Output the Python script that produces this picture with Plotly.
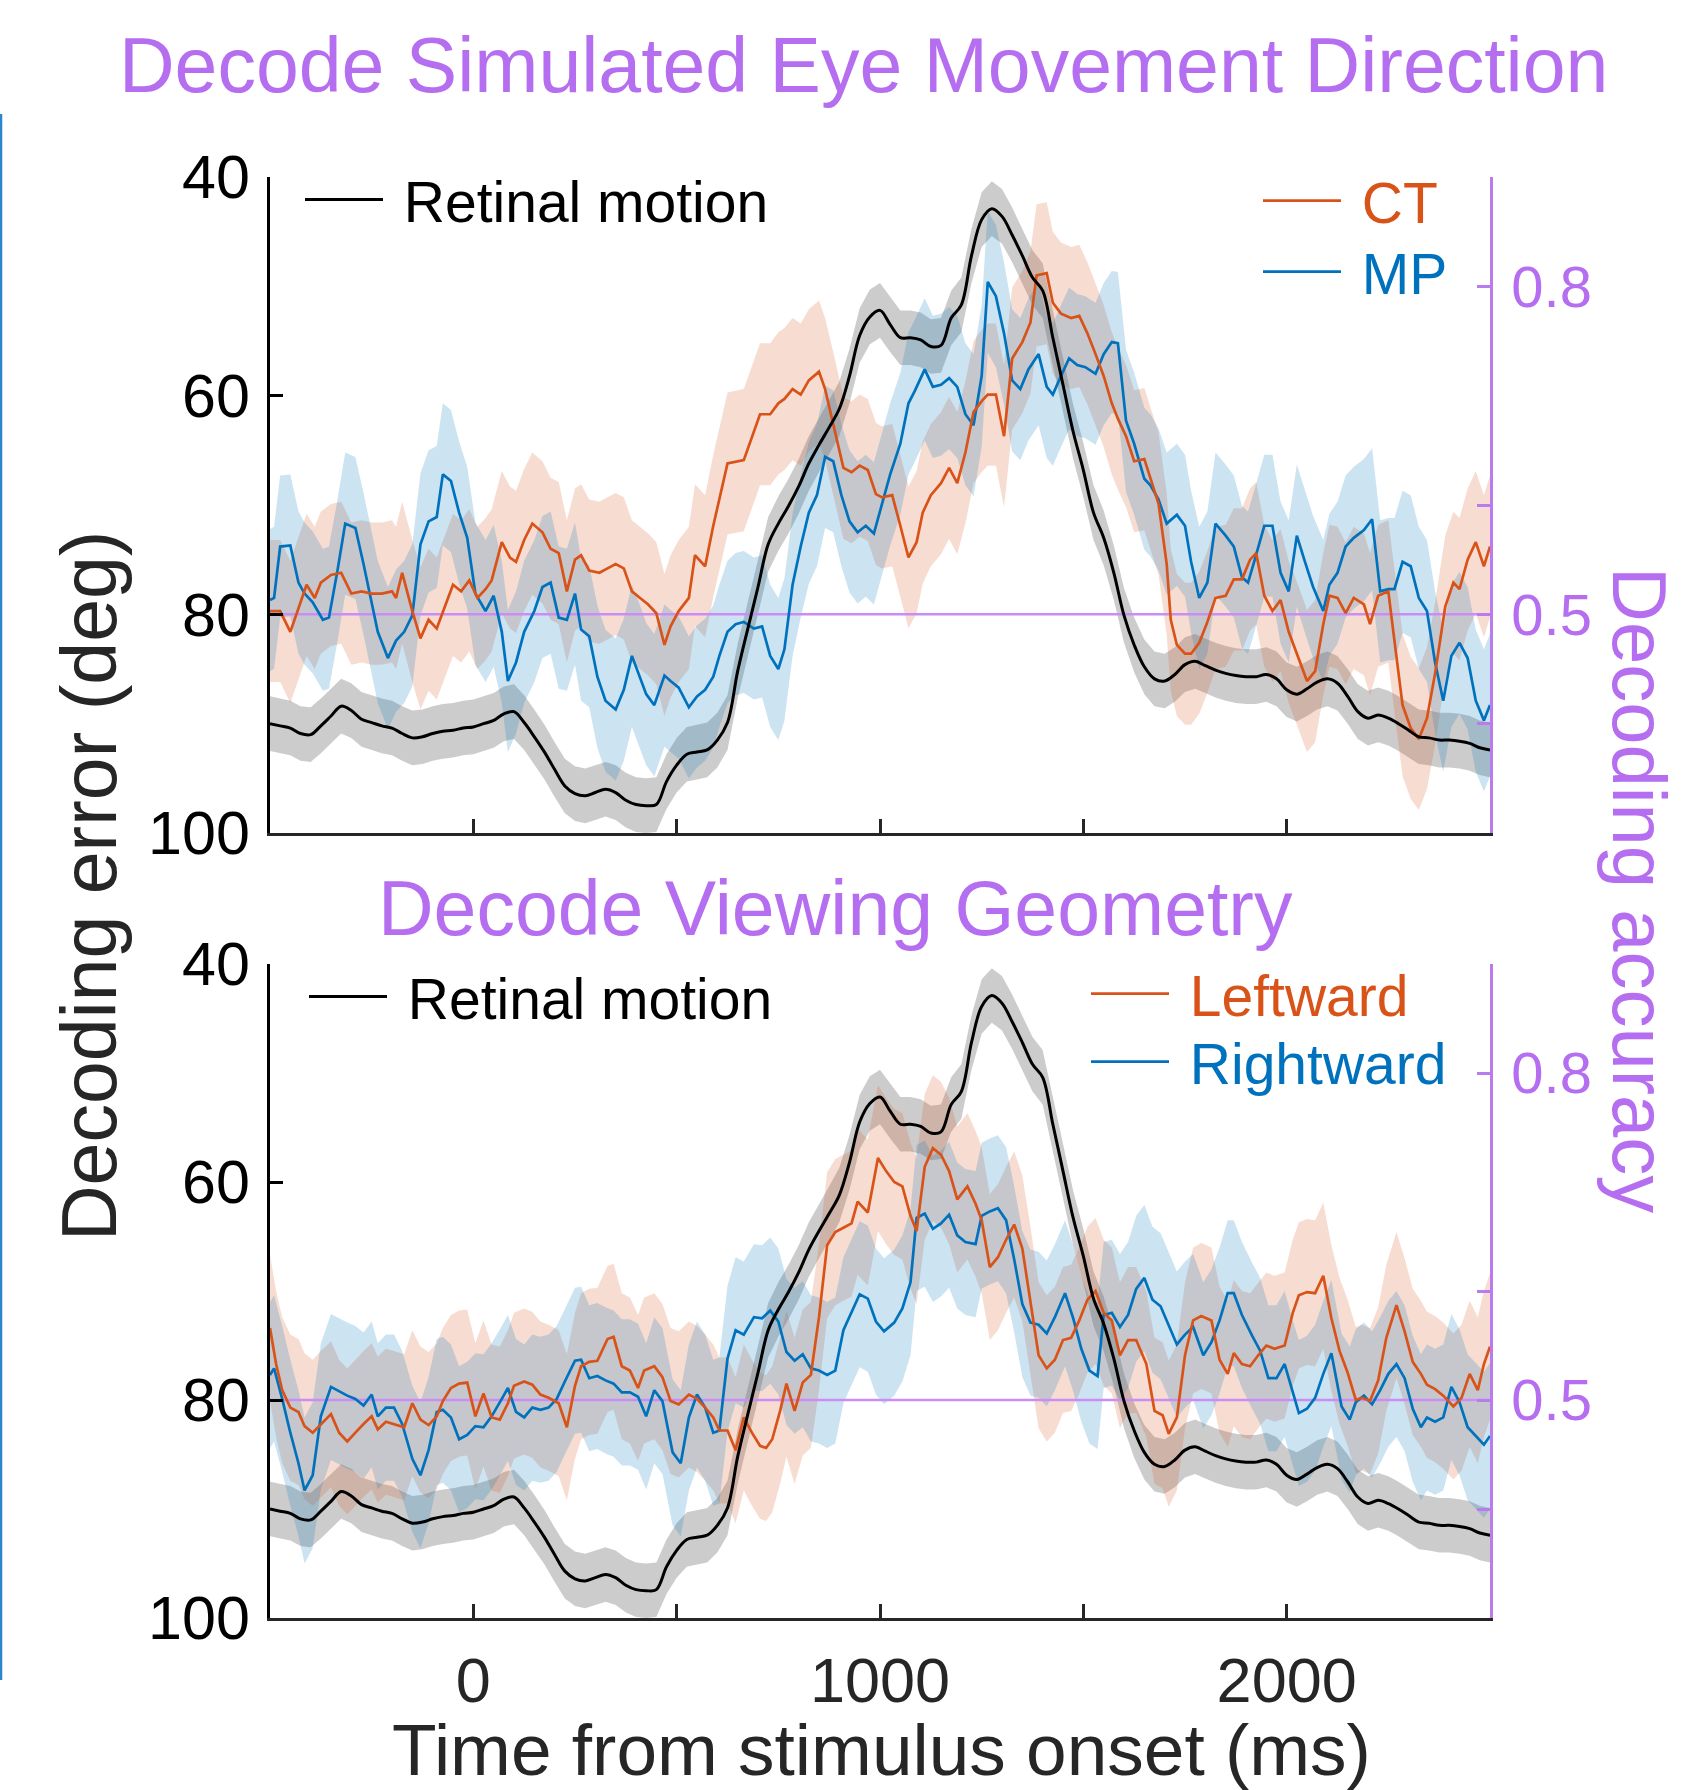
import plotly.graph_objects as go

# ---------------- data ----------------
# Retinal motion (same curve in both panels), decoding error in deg
retinal_t = list(range(-500, 2501, 25))
retinal_y = [
    90.0, 90.2, 90.4, 90.9, 91.0, 90.2, 89.3, 88.4, 88.8, 89.6,
    89.9, 90.2, 90.4, 90.9, 91.3, 91.2, 90.9, 90.7, 90.6, 90.4,
    90.3, 90.0, 89.7, 89.1, 88.9, 89.9, 91.2, 92.6, 94.2, 95.7,
    96.4, 96.6, 96.3, 96.0, 96.3, 97.0, 97.4, 97.5, 97.4, 95.3,
    93.8, 92.8, 92.6, 92.4, 91.5, 89.9, 85.2, 81.3, 77.5, 73.6,
    71.7, 70.1, 68.3, 66.2, 64.5, 62.9, 61.2, 58.2, 54.5, 52.8,
    52.2, 53.5, 54.7, 54.7, 54.9, 55.5, 55.4, 52.9, 51.7, 47.2,
    43.9, 42.9, 43.6, 45.3, 47.2, 49.2, 50.4, 54.7, 59.0, 63.3,
    66.8, 70.7, 73.0, 76.2, 80.1, 82.8, 84.8, 85.9, 86.1, 85.5,
    84.6, 84.3, 84.7, 85.1, 85.4, 85.6, 85.7, 85.7, 85.5, 85.9,
    86.9, 87.3, 86.8, 86.2, 85.9, 86.3, 87.5, 88.9, 89.5, 89.2,
    89.5, 90.0, 90.6, 91.2, 91.3, 91.5, 91.5, 91.6, 91.8, 92.2,
    92.4,
]
retinal_sem = 2.5

# Top panel: CT
ct_t = [-500, -475, -450, -425, -410, -390, -375, -350, -325, -300,
        -275, -250, -225, -200, -190, -175, -150, -130, -110, -90,
        -50, -30, -10, 10, 30, 45, 70, 90, 105, 125,
        145, 170, 190, 210, 230, 250, 265, 285, 310, 330,
        350, 370, 390, 410, 430, 450, 470, 485, 505, 530,
        545, 570, 590, 625, 665, 705, 730, 750, 765, 785,
        805, 825, 850, 865, 885, 910, 930, 950, 970, 990,
        1005, 1030, 1050, 1070, 1090, 1105, 1125, 1150, 1170, 1190,
        1210, 1230, 1250, 1265, 1285, 1305, 1325, 1350, 1370, 1385,
        1410, 1425, 1445, 1470, 1490, 1510, 1530, 1550, 1570, 1585,
        1605, 1625, 1650, 1665, 1685, 1705, 1715, 1730, 1750, 1765,
        1785, 1805, 1825, 1850, 1870, 1890, 1910, 1925, 1945, 1965,
        1985, 2005, 2030, 2050, 2070, 2090, 2105, 2125, 2145, 2165,
        2190, 2205, 2225, 2250, 2265, 2285, 2305, 2325, 2345, 2365,
        2390, 2410, 2425, 2445, 2465, 2485, 2500]
ct_y = [79.7, 79.7, 81.6, 78.9, 77.3, 78.5, 77.1, 76.4, 76.2, 78.1,
        77.9, 78.1, 78.1, 77.9, 78.5, 76.2, 79.7, 82.2, 80.5, 81.3,
        77.3, 77.9, 76.9, 78.5, 77.7, 76.9, 73.4, 74.8, 75.2, 73.2,
        71.7, 72.5, 74.0, 74.4, 77.9, 75.0, 74.6, 76.0, 76.2, 75.8,
        75.4, 75.8, 77.9, 78.5, 79.1, 79.9, 82.8, 81.1, 79.7, 78.5,
        74.6, 75.6, 71.9, 66.2, 65.9, 61.7, 61.7, 60.7, 60.3, 59.4,
        59.9, 58.6, 57.8, 59.4, 62.5, 66.6, 67.0, 66.4, 66.8, 69.0,
        69.3, 69.1, 71.9, 74.8, 73.4, 70.7, 69.1, 68.0, 66.6, 68.0,
        65.2, 61.5, 60.5, 59.9, 59.9, 63.7, 56.6, 55.1, 53.3, 49.0,
        48.8, 51.5, 52.5, 52.9, 52.7, 54.3, 56.2, 58.2, 60.7, 62.1,
        63.7, 66.0, 65.8, 67.6, 69.9, 75.4, 80.5, 82.8, 83.6, 83.6,
        82.6, 80.7, 78.5, 78.3, 76.8, 76.8, 75.0, 74.4, 78.3, 79.7,
        78.7, 81.6, 84.0, 86.1, 85.2, 80.9, 78.3, 78.5, 79.9, 78.5,
        79.1, 80.9, 78.3, 77.9, 82.4, 88.3, 90.4, 91.4, 89.5, 85.4,
        79.3, 77.1, 77.7, 75.0, 73.4, 75.6, 73.8]
ct_sem = 6.5

# Top panel: MP
mp_t = [-500, -490, -475, -450, -430, -415, -395, -370, -355, -335,
        -315, -290, -270, -250, -235, -210, -190, -170, -150, -130,
        -110, -90, -75, -55, -35, -15, 5, 30, 50, 70,
        85, 105, 125, 150, 170, 190, 210, 230, 250, 265,
        285, 305, 325, 350, 370, 390, 410, 425, 445, 470,
        485, 505, 530, 550, 570, 590, 605, 625, 645, 665,
        690, 710, 730, 750, 765, 785, 805, 825, 845, 865,
        885, 905, 925, 945, 965, 985, 1005, 1025, 1050, 1070,
        1085, 1110, 1130, 1150, 1170, 1190, 1210, 1230, 1250, 1265,
        1285, 1305, 1325, 1345, 1365, 1390, 1410, 1425, 1445, 1465,
        1485, 1505, 1530, 1550, 1570, 1585, 1605, 1625, 1650, 1665,
        1685, 1705, 1730, 1750, 1765, 1785, 1805, 1825, 1850, 1870,
        1890, 1905, 1920, 1945, 1965, 1985, 2005, 2025, 2045, 2065,
        2090, 2105, 2125, 2145, 2165, 2190, 2210, 2230, 2250, 2265,
        2285, 2305, 2325, 2345, 2365, 2385, 2405, 2425, 2445, 2465,
        2485, 2500]
mp_y = [78.7, 78.5, 73.8, 73.7, 77.1, 78.1, 78.9, 80.5, 80.3, 76.2,
        71.7, 72.1, 75.4, 78.9, 81.6, 84.0, 82.4, 81.6, 80.1, 73.6,
        71.5, 71.1, 67.2, 67.8, 70.7, 73.0, 78.1, 79.7, 78.3, 81.6,
        86.1, 84.4, 81.6, 79.7, 77.5, 77.1, 80.3, 80.5, 78.1, 81.4,
        82.0, 85.7, 87.9, 88.7, 86.9, 83.8, 85.7, 87.3, 88.3, 85.6,
        86.1, 86.7, 88.5, 87.5, 86.9, 85.7, 83.8, 81.6, 80.9, 80.7,
        81.3, 81.1, 83.8, 85.0, 83.2, 77.3, 73.8, 70.7, 69.1, 65.6,
        66.0, 69.1, 71.5, 72.5, 71.9, 72.6, 69.9, 67.2, 64.4, 60.7,
        59.6, 57.6, 59.2, 59.0, 58.4, 59.2, 61.7, 62.7, 58.2, 49.6,
        50.9, 54.3, 58.6, 59.4, 57.6, 56.2, 59.2, 59.9, 58.2, 56.6,
        57.2, 57.4, 58.0, 56.2, 55.1, 55.2, 62.3, 64.4, 67.6, 68.2,
        69.5, 71.7, 70.9, 71.9, 75.2, 78.5, 77.1, 71.7, 72.8, 73.8,
        76.6, 77.1, 75.2, 71.9, 71.9, 76.2, 77.9, 72.8, 75.2, 77.5,
        79.7, 77.3, 76.2, 73.8, 73.0, 72.3, 71.3, 77.9, 77.7, 77.7,
        75.2, 75.6, 78.5, 79.7, 84.4, 87.9, 83.8, 82.6, 84.0, 87.9,
        89.7, 88.3]
mp_sem = 6.5

# Bottom panel: Leftward
left_t = [-500, -485, -470, -450, -430, -415, -395, -375, -350, -330,
          -310, -290, -270, -250, -235, -215, -195, -170, -150, -130,
          -110, -90, -75, -55, -35, -15, 5, 25, 45, 65,
          85, 100, 125, 145, 165, 185, 210, 230, 250, 265,
          285, 305, 330, 345, 365, 385, 405, 420, 445, 465,
          485, 505, 530, 550, 570, 590, 605, 625, 645, 665,
          685, 705, 720, 735, 755, 770, 790, 810, 830, 850,
          870, 890, 910, 930, 945, 970, 995, 1015, 1035, 1055,
          1075, 1090, 1110, 1130, 1150, 1170, 1190, 1215, 1235, 1250,
          1270, 1290, 1310, 1330, 1350, 1370, 1390, 1410, 1430, 1450,
          1470, 1490, 1510, 1530, 1550, 1570, 1590, 1610, 1630, 1655,
          1675, 1695, 1710, 1730, 1750, 1770, 1790, 1815, 1835, 1855,
          1870, 1890, 1910, 1930, 1950, 1970, 1995, 2015, 2030, 2050,
          2070, 2090, 2110, 2130, 2150, 2170, 2185, 2205, 2225, 2245,
          2270, 2290, 2310, 2330, 2345, 2365, 2385, 2410, 2430, 2450,
          2470, 2485, 2500]
left_y = [73.4, 76.7, 79.1, 80.7, 81.1, 82.4, 83.0, 82.2, 81.3, 83.0,
          83.8, 83.0, 82.2, 81.5, 82.7, 82.0, 82.2, 82.5, 80.3, 81.8,
          82.3, 81.5, 80.1, 78.9, 78.5, 78.4, 81.5, 79.4, 81.6, 81.8,
          80.3, 78.7, 78.3, 78.6, 79.5, 79.8, 80.3, 82.5, 78.7, 76.9,
          76.5, 76.4, 74.4, 74.2, 76.9, 77.3, 78.9, 77.3, 76.9, 77.9,
          80.1, 80.4, 79.5, 79.9, 80.7, 81.6, 82.8, 82.8, 84.6, 81.6,
          83.0, 84.2, 84.4, 83.6, 80.9, 78.5, 81.0, 78.4, 77.7, 72.4,
          65.8, 64.6, 64.2, 63.8, 61.8, 62.8, 57.8, 59.0, 60.0, 60.4,
          63.1, 64.5, 58.6, 56.9, 57.5, 59.0, 61.6, 60.4, 62.0, 63.5,
          67.8, 66.9, 65.3, 63.9, 66.1, 70.8, 75.9, 77.1, 76.3, 74.5,
          74.3, 72.7, 70.8, 70.0, 72.0, 72.7, 75.9, 74.5, 74.5, 76.7,
          81.0, 81.4, 83.1, 81.6, 75.9, 72.7, 72.3, 72.7, 76.3, 77.6,
          75.7, 76.7, 76.9, 75.9, 75.0, 75.3, 75.0, 72.0, 70.4, 70.1,
          70.2, 68.6, 72.5, 75.5, 77.5, 80.0, 79.8, 80.1, 78.2, 74.3,
          71.3, 73.7, 76.5, 77.6, 78.6, 79.0, 79.6, 80.6, 79.8, 77.6,
          79.1, 76.7, 75.1]
left_sem = 6.7

# Bottom panel: Rightward
right_t = [-500, -490, -470, -450, -430, -415, -395, -375, -350, -330,
           -310, -290, -270, -250, -235, -215, -195, -175, -150, -130,
           -110, -90, -75, -55, -35, -15, 5, 25, 45, 70,
           85, 105, 125, 145, 165, 185, 205, 225, 250, 265,
           285, 305, 325, 345, 365, 385, 405, 425, 445, 465,
           490, 510, 530, 550, 570, 590, 605, 625, 645, 665,
           690, 710, 730, 750, 770, 790, 810, 830, 850, 870,
           890, 910, 925, 950, 970, 990, 1010, 1035, 1055, 1075,
           1090, 1110, 1130, 1150, 1170, 1190, 1210, 1235, 1250, 1270,
           1290, 1310, 1330, 1350, 1370, 1390, 1410, 1430, 1455, 1475,
           1495, 1515, 1535, 1550, 1570, 1590, 1610, 1630, 1650, 1670,
           1690, 1705, 1730, 1750, 1770, 1795, 1815, 1835, 1855, 1870,
           1890, 1915, 1935, 1955, 1975, 1995, 2015, 2030, 2050, 2070,
           2090, 2110, 2135, 2155, 2170, 2190, 2210, 2230, 2250, 2270,
           2290, 2310, 2330, 2345, 2365, 2385, 2405, 2425, 2445, 2465,
           2485, 2500]
right_y = [77.7, 77.1, 79.9, 83.0, 85.8, 88.3, 86.9, 81.5, 78.8, 79.2,
           79.6, 79.9, 80.5, 79.5, 81.5, 80.7, 80.7, 82.2, 85.4, 86.9,
           84.6, 81.1, 80.9, 81.6, 83.6, 83.2, 82.4, 82.5, 81.5, 79.9,
           78.9, 81.1, 81.6, 80.7, 80.9, 80.7, 79.9, 78.3, 76.4, 76.3,
           78.0, 77.8, 78.2, 78.5, 79.3, 79.3, 79.7, 81.5, 79.1, 80.1,
           84.8, 85.8, 81.6, 79.5, 80.7, 83.0, 82.8, 76.2, 73.6, 74.0,
           72.4, 72.5, 71.8, 72.8, 75.6, 76.4, 75.8, 77.1, 77.3, 77.7,
           77.3, 73.6, 72.4, 70.3, 70.7, 72.8, 73.7, 72.9, 71.6, 69.2,
           63.3, 62.9, 64.3, 63.8, 63.0, 64.9, 65.5, 65.7, 63.1, 62.7,
           62.4, 63.5, 67.1, 71.2, 72.9, 73.1, 73.9, 72.4, 70.2, 72.5,
           75.3, 77.3, 77.8, 72.2, 72.0, 73.3, 72.2, 69.8, 68.8, 70.8,
           71.4, 72.7, 74.9, 74.0, 73.3, 75.9, 74.7, 72.7, 70.2, 70.2,
           72.2, 74.1, 75.5, 78.0, 78.0, 76.7, 79.4, 81.2, 80.8, 79.8,
           77.6, 75.7, 80.6, 81.8, 80.2, 79.6, 80.4, 79.1, 77.6, 76.7,
           78.0, 80.8, 82.5, 81.6, 82.0, 81.6, 78.8, 80.2, 82.5, 83.3,
           84.1, 83.3]
right_sem = 6.7

chance_deg = 80
x_range = [-500, 2500]
y_range = [100, 40]
acc_range = [0.3, 0.9]
x_tickvals = [-500, 0, 500, 1000, 1500, 2000]
x_ticktext = ["", "0", "", "1000", "", "2000"]
y_tickvals = [40, 60, 80, 100]
acc_tickvals = [0.4, 0.5, 0.6, 0.8]
acc_ticktext = ["", "0.5", "", "0.8"]

# ---------------- styles ----------------
FONT = "Liberation Sans, Arial, Helvetica, sans-serif"
BLACK = "#000000"
ORANGE = "#D95319"
BLUE = "#0072BD"
PURPLE = "#B66EF0"
PURPLE_LINE = "#C98DF5"
PURPLE_AXIS = "#B97BEE"
DARK = "#262626"
W, H = 1689, 1790

fig = go.Figure()


def add_band(t, y, sem, fill, xa, ya):
    lo = [v - sem for v in y]
    hi = [v + sem for v in y]
    fig.add_trace(go.Scatter(
        x=t + t[::-1], y=hi + lo[::-1], fill="toself", fillcolor=fill,
        line=dict(width=0), mode="lines", hoverinfo="skip",
        showlegend=False, xaxis=xa, yaxis=ya))


def add_line(t, y, color, width, name, legend, xa, ya, shape="linear"):
    fig.add_trace(go.Scatter(
        x=t, y=y, mode="lines", line=dict(color=color, width=width, shape=shape),
        name="&nbsp;" + name, legend=legend, showlegend=True, xaxis=xa, yaxis=ya))


def add_chance(xa, ya):
    fig.add_trace(go.Scatter(
        x=x_range, y=[chance_deg, chance_deg], mode="lines",
        line=dict(color=PURPLE_LINE, width=2.5), hoverinfo="skip",
        showlegend=False, xaxis=xa, yaxis=ya))


# top panel
add_band(retinal_t, retinal_y, retinal_sem, "rgba(0,0,0,0.2)", "x", "y")
add_band(ct_t, ct_y, ct_sem, "rgba(217,83,25,0.2)", "x", "y")
add_band(mp_t, mp_y, mp_sem, "rgba(0,114,189,0.2)", "x", "y")
add_chance("x", "y")
add_line(mp_t, mp_y, BLUE, 2.7, "MP", "legend3", "x", "y")
add_line(ct_t, ct_y, ORANGE, 2.7, "CT", "legend2", "x", "y")
add_line(retinal_t, retinal_y, BLACK, 3.0, "Retinal motion", "legend", "x", "y", "spline")

# bottom panel
add_band(retinal_t, retinal_y, retinal_sem, "rgba(0,0,0,0.2)", "x2", "y2")
add_band(left_t, left_y, left_sem, "rgba(217,83,25,0.2)", "x2", "y2")
add_band(right_t, right_y, right_sem, "rgba(0,114,189,0.2)", "x2", "y2")
add_chance("x2", "y2")
add_line(right_t, right_y, BLUE, 2.7, "Rightward", "legend6", "x2", "y2")
add_line(left_t, left_y, ORANGE, 2.7, "Leftward", "legend5", "x2", "y2")
add_line(retinal_t, retinal_y, BLACK, 3.0, "Retinal motion", "legend4", "x2", "y2", "spline")

# invisible traces to activate the right-hand accuracy axes
fig.add_trace(go.Scatter(x=[None], y=[None], xaxis="x", yaxis="y3", showlegend=False))
fig.add_trace(go.Scatter(x=[None], y=[None], xaxis="x2", yaxis="y4", showlegend=False))

xdom = [270 / W, 1490 / W]
top_dom = [1 - 833 / H, 1 - 177 / H]
bot_dom = [1 - 1618 / H, 1 - 964 / H]

xaxis_common = dict(range=x_range, showgrid=False, zeroline=False, showline=True,
                    linecolor=DARK, linewidth=2.8, ticks="inside", ticklen=14,
                    tickwidth=2.5, tickcolor=DARK, tickvals=x_tickvals,
                    ticktext=x_ticktext, domain=xdom, automargin=False,
                    tickfont=dict(family=FONT, size=63, color=DARK))
yaxis_common = dict(range=y_range, showgrid=False, zeroline=False, showline=True,
                    linecolor=BLACK, linewidth=2.8, ticks="inside", ticklen=13,
                    tickwidth=2.5, tickcolor=BLACK, tickvals=y_tickvals,
                    tickfont=dict(family=FONT, size=61, color=BLACK),
                    ticklabelstandoff=5, automargin=False)
acc_common = dict(range=acc_range, showgrid=False, zeroline=False, showline=True,
                  linecolor=PURPLE_AXIS, linewidth=2.5, ticks="inside", ticklen=13,
                  tickwidth=2.5, tickcolor=PURPLE_AXIS, tickvals=acc_tickvals,
                  ticktext=acc_ticktext, side="right", automargin=False,
                  tickfont=dict(family=FONT, size=58, color=PURPLE),
                  ticklabelstandoff=7)


def legend_at(x_px, top_px, color):
    return dict(x=x_px / W, y=1 - top_px / H, xanchor="left", yanchor="top",
                bgcolor="rgba(0,0,0,0)", borderwidth=0,
                font=dict(family=FONT, size=57, color=color), itemwidth=78)


fig.update_layout(
    width=W, height=H, margin=dict(l=0, r=0, t=0, b=0, autoexpand=False),
    paper_bgcolor="white", plot_bgcolor="rgba(0,0,0,0)",
    font=dict(family=FONT, color=BLACK),
    xaxis=dict(anchor="y", showticklabels=False, **xaxis_common),
    xaxis2=dict(anchor="y2", showticklabels=True, ticklabelstandoff=5, **xaxis_common),
    yaxis=dict(anchor="x", domain=top_dom, **yaxis_common),
    yaxis2=dict(anchor="x2", domain=bot_dom, **yaxis_common),
    yaxis3=dict(anchor="x", overlaying="y", **acc_common),
    yaxis4=dict(anchor="x2", overlaying="y2", **acc_common),
    legend=legend_at(300, 156, BLACK),
    legend2=legend_at(1258, 157, ORANGE),
    legend3=legend_at(1258, 228, BLUE),
    legend4=legend_at(304, 953, BLACK),
    legend5=legend_at(1086, 950, ORANGE),
    legend6=legend_at(1086, 1018, BLUE),
    showlegend=True,
)

annotations = [
    dict(text="Decode Simulated Eye Movement Direction", x=863 / W, y=1 - 65 / H,
         font=dict(family=FONT, size=77, color=PURPLE)),
    dict(text="Decode Viewing Geometry", x=835 / W, y=1 - 908 / H,
         font=dict(family=FONT, size=77, color=PURPLE)),
    dict(text="Decoding error (deg)", x=89 / W, y=1 - 886 / H, textangle=-90,
         font=dict(family=FONT, size=77, color=DARK)),
    dict(text="Decoding accuracy", x=1640 / W, y=1 - 890 / H, textangle=90,
         font=dict(family=FONT, size=76, color=PURPLE)),
    dict(text="Time from stimulus onset (ms)", x=881 / W, y=1 - 1749 / H,
         font=dict(family=FONT, size=73, color=DARK)),
]
for a in annotations:
    fig.add_annotation(xref="paper", yref="paper", showarrow=False,
                       xanchor="center", yanchor="middle", **a)

# thin blue frame edge at the far left of the picture
fig.add_shape(type="line", xref="paper", yref="paper", x0=1 / W, x1=1 / W,
              y0=1 - 114 / H, y1=1 - 1680 / H, line=dict(color="#2A86CF", width=2.5))

fig.write_html("out.html")
